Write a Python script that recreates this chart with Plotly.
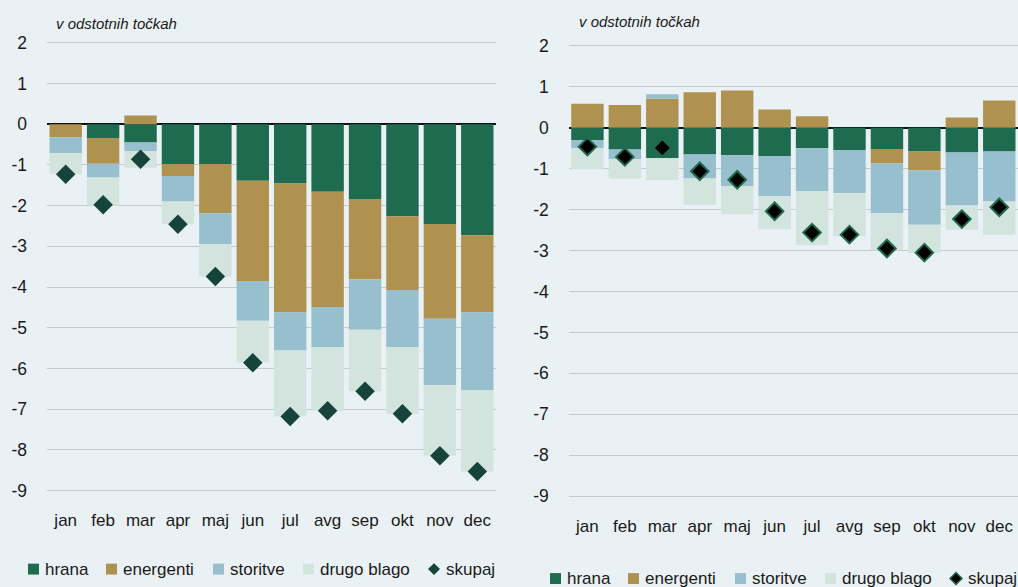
import plotly.graph_objects as go

W, H = 1018, 587

months = ["jan", "feb", "mar", "apr", "maj", "jun", "jul", "avg", "sep", "okt", "nov", "dec"]
series_names = ["hrana", "energenti", "storitve", "drugo blago"]
y_ticks = [2, 1, 0, -1, -2, -3, -4, -5, -6, -7, -8, -9]
axis_title = "v odstotnih točkah"

# left panel: contributions in percentage points
left_hrana = [0.0, -0.34, -0.45, -0.98, -0.98, -1.39, -1.46, -1.66, -1.84, -2.26, -2.45, -2.73]
left_energenti = [-0.32, -0.63, 0.21, -0.29, -1.21, -2.46, -3.16, -2.83, -1.97, -1.81, -2.33, -1.89]
left_storitve = [-0.39, -0.34, -0.21, -0.63, -0.75, -0.98, -0.94, -0.99, -1.24, -1.41, -1.63, -1.91]
left_drugo = [-0.52, -0.69, -0.41, -0.56, -0.81, -1.02, -1.62, -1.56, -1.51, -1.63, -1.73, -2.00]
left_skupaj = [-1.23, -1.98, -0.86, -2.46, -3.74, -5.86, -7.18, -7.04, -6.56, -7.11, -8.14, -8.53]

# right panel: contributions in percentage points
right_hrana = [-0.30, -0.53, -0.74, -0.65, -0.67, -0.69, -0.50, -0.54, -0.52, -0.58, -0.60, -0.58]
right_energenti = [0.59, 0.56, 0.71, 0.87, 0.91, 0.45, 0.28, 0.0, -0.35, -0.46, 0.25, 0.67]
right_storitve = [-0.19, -0.23, 0.11, -0.59, -0.76, -0.98, -1.05, -1.05, -1.22, -1.33, -1.30, -1.22]
right_drugo = [-0.52, -0.48, -0.54, -0.64, -0.68, -0.81, -1.32, -1.06, -0.89, -0.69, -0.59, -0.81]
right_skupaj = [-0.46, -0.71, -0.49, -1.06, -1.27, -2.04, -2.56, -2.61, -2.95, -3.05, -2.23, -1.94]

colors = ["#1F6B50", "#AF9150", "#98BFCE", "#D3E3DE"]
BG = "#EAF1F4"
GRID = "#C6CACD"
TXT = "#1A1A1A"
FONT = "Liberation Sans, Arial, sans-serif"


def px(x):
    return x / W


def py(y):
    return 1 - y / H


fig = go.Figure()

panels = [
    dict(series=[left_hrana, left_energenti, left_storitve, left_drugo], total=left_skupaj,
         xa="x", ya="y", dfill="#16433A", dline="#16433A", dlw=0),
    dict(series=[right_hrana, right_energenti, right_storitve, right_drugo], total=right_skupaj,
         xa="x2", ya="y2", dfill="#000000", dline="#1F6B50", dlw=2),
]

for p in panels:
    for name, vals, col in zip(series_names, p["series"], colors):
        fig.add_trace(go.Bar(x=months, y=vals, name=name, marker=dict(color=col, line=dict(width=0)),
                             xaxis=p["xa"], yaxis=p["ya"], showlegend=False))
    fig.add_trace(go.Scatter(x=months, y=p["total"], mode="markers", name="skupaj",
                             marker=dict(symbol="diamond", size=15 if p["dlw"] == 0 else 13.5,
                                         color=p["dfill"], line=dict(color=p["dline"], width=p["dlw"])),
                             xaxis=p["xa"], yaxis=p["ya"], showlegend=False))

yr = [-9.2, 2.2]
common_y = dict(range=yr, tickvals=y_ticks, ticktext=[str(v) for v in y_ticks],
                showgrid=True, gridcolor=GRID, gridwidth=1,
                zeroline=True, zerolinecolor="#111111", zerolinewidth=1.5,
                showline=False, ticks="", tickfont=dict(family=FONT, size=17.5, color=TXT),
                ticklabelstandoff=19, fixedrange=True)
common_x = dict(range=[-0.5, len(months) - 0.5], showgrid=False, zeroline=False, showline=False,
                ticks="", tickfont=dict(family=FONT, size=17, color=TXT), fixedrange=True)

# left plot area: x 47..496 px, y (2 -> 41 px, -9 -> 492 px)
l_top = 41 - 0.2 * 41
l_bot = 492 + 0.2 * 41
# right plot area: x 568.7..1018 px, y (2 -> 44.3 px, -9 -> 497.5 px)
r_unit = (497.5 - 44.3) / 11
r_top = 44.3 - 0.2 * r_unit
r_bot = 497.5 + 0.2 * r_unit

fig.update_layout(
    width=W, height=H,
    margin=dict(l=0, r=0, t=0, b=0),
    paper_bgcolor=BG, plot_bgcolor=BG,
    barmode="relative", bargap=0.134,
    showlegend=False,
    xaxis=dict(domain=[px(47), px(496)], anchor="y", ticklabelstandoff=9, **common_x),
    yaxis=dict(domain=[py(l_bot), py(l_top)], anchor="x", **common_y),
    xaxis2=dict(domain=[px(568.7), 1.0], anchor="y2", ticklabelstandoff=10, **common_x),
    yaxis2=dict(domain=[py(r_bot), py(r_top)], anchor="x2", **common_y),
)

annotations = [
    dict(text="<i>" + axis_title + "</i>", x=px(54), y=py(22), xref="paper", yref="paper",
         xanchor="left", yanchor="middle", showarrow=False, font=dict(family=FONT, size=15, color=TXT)),
    dict(text="<i>" + axis_title + "</i>", x=px(577), y=py(20), xref="paper", yref="paper",
         xanchor="left", yanchor="middle", showarrow=False, font=dict(family=FONT, size=15, color=TXT)),
]
shapes = []

# legend rows below each panel
legend_labels = series_names + ["skupaj"]
sym_x = [28, 106, 213, 303, 428]
txt_x = [43, 121, 228, 318, 444]
for dx, cy, dcol, dline in [(0, 571, "#16433A", "#16433A"), (522, 580.5, "#000000", "#1F6B50")]:
    for i, lab in enumerate(legend_labels):
        x0 = sym_x[i] + dx
        if i < 4:
            shapes.append(dict(type="rect", xref="paper", yref="paper",
                               x0=px(x0), x1=px(x0 + 11), y0=py(cy + 5.5), y1=py(cy - 5.5),
                               fillcolor=colors[i], line=dict(width=0)))
        else:
            cx = x0 + 6
            r = 6
            path = (f"M{px(cx - r)},{py(cy)} L{px(cx)},{py(cy - r)} "
                    f"L{px(cx + r)},{py(cy)} L{px(cx)},{py(cy + r)} Z")
            shapes.append(dict(type="path", xref="paper", yref="paper", path=path,
                               fillcolor=dcol, line=dict(color=dline, width=1.5 if dx else 0)))
        annotations.append(dict(text=lab, x=px(txt_x[i] + dx), y=py(cy), xref="paper", yref="paper",
                                xanchor="left", yanchor="middle", showarrow=False,
                                font=dict(family=FONT, size=17, color=TXT)))

fig.update_layout(annotations=annotations, shapes=shapes)

fig.write_html("out.html")
